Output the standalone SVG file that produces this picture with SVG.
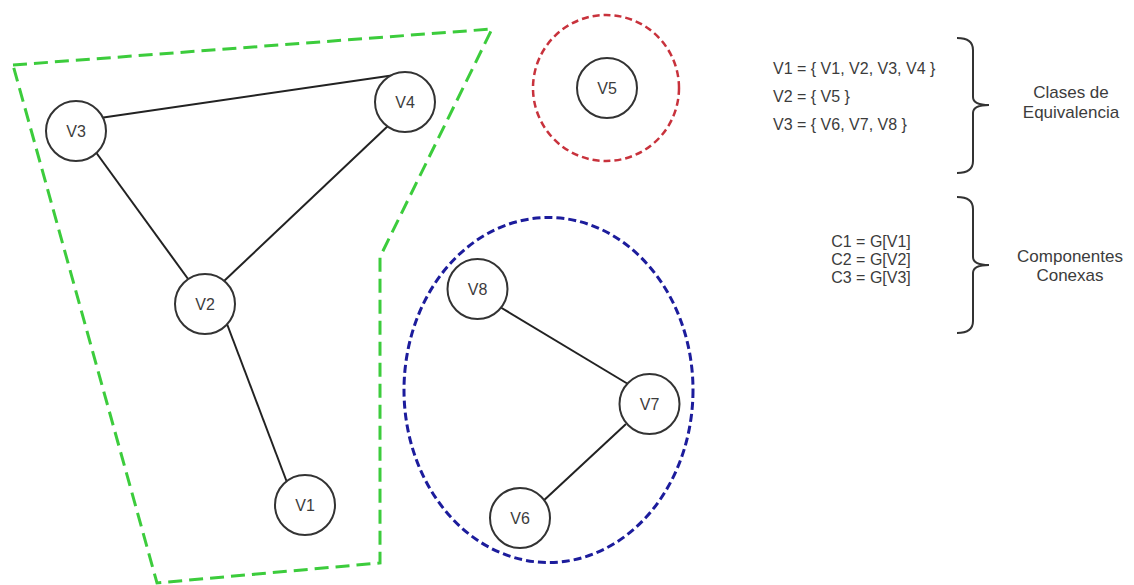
<svg xmlns="http://www.w3.org/2000/svg" width="1134" height="585" viewBox="0 0 1134 585">
<style>
.node circle{fill:#fff;stroke:#333;stroke-width:2}
.node text{font-family:"Liberation Sans",Arial,sans-serif;font-size:16px;fill:#3c3c3c;text-anchor:middle;dominant-baseline:central}
.edge{stroke:#222;stroke-width:2;fill:none}
.txt{font-family:"Liberation Sans",Arial,sans-serif;fill:#3c3c3c}
.brace{fill:none;stroke:#333;stroke-width:2}
</style>
<rect width="1134" height="585" fill="#fff"/>
<g id="groups">
<polygon id="class1" points="13,65 492,29 380,257 380,563 157,583" fill="none" stroke="#3ccc3c" stroke-width="3" stroke-dasharray="14 7"/>
<circle id="class2" cx="606" cy="88" r="73" fill="none" stroke="#c8323c" stroke-width="2.5" stroke-dasharray="7 4"/>
<ellipse id="class3" cx="548.5" cy="390" rx="144.5" ry="172.5" fill="none" stroke="#1c1c9c" stroke-width="3" stroke-dasharray="8 4"/>
</g>
<g id="connectors">
<line class="edge" x1="100" y1="118" x2="395" y2="75"/>
<line class="edge" x1="95" y1="151" x2="191" y2="283"/>
<line class="edge" x1="390" y1="124" x2="223" y2="282"/>
<line class="edge" x1="227" y1="324" x2="288" y2="485"/>
<line class="edge" x1="500" y1="307" x2="628" y2="384"/>
<line class="edge" x1="626" y1="424" x2="541" y2="503"/>
</g>
<g id="V1" class="node"><circle cx="305" cy="505" r="30"/><text x="305" y="505">V1</text></g>
<g id="V2" class="node"><circle cx="205" cy="304" r="30"/><text x="205" y="304">V2</text></g>
<g id="V3" class="node"><circle cx="76" cy="131" r="30"/><text x="76" y="131">V3</text></g>
<g id="V4" class="node"><circle cx="405" cy="102" r="30"/><text x="405" y="102">V4</text></g>
<g id="V5" class="node"><circle cx="607" cy="88" r="30"/><text x="607" y="88">V5</text></g>
<g id="V8" class="node"><circle cx="477.5" cy="289" r="30"/><text x="477.5" y="289">V8</text></g>
<g id="V7" class="node"><circle cx="649.5" cy="404" r="30"/><text x="649.5" y="404">V7</text></g>
<g id="V6" class="node"><circle cx="520" cy="518" r="30"/><text x="520" y="518">V6</text></g>
<g id="classes-text">
<text class="txt" x="773" y="74" font-size="16">V1 = { V1, V2, V3, V4 }</text>
<text class="txt" x="773" y="102" font-size="16">V2 = { V5 }</text>
<text class="txt" x="773" y="130" font-size="16">V3 = { V6, V7, V8 }</text>
<path class="brace" d="M957,38 Q973,38 973,50 L973,97 Q973,105 989,105 Q973,105 973,113 L973,161 Q973,173 957,173"/>
<text class="txt" x="1071" y="98" font-size="17" text-anchor="middle">Clases de</text>
<text class="txt" x="1071" y="118" font-size="17" text-anchor="middle">Equivalencia</text>
</g>
<g id="components-text">
<text class="txt" x="871" y="247" font-size="16" text-anchor="middle">C1 = G[V1]</text>
<text class="txt" x="871" y="265" font-size="16" text-anchor="middle">C2 = G[V2]</text>
<text class="txt" x="871" y="283" font-size="16" text-anchor="middle">C3 = G[V3]</text>
<path class="brace" d="M957,197 Q973,197 973,209 L973,257 Q973,265 989,265 Q973,265 973,273 L973,321 Q973,333 957,333"/>
<text class="txt" x="1070" y="262" font-size="17" text-anchor="middle">Componentes</text>
<text class="txt" x="1070" y="281" font-size="17" text-anchor="middle">Conexas</text>
</g>
</svg>
